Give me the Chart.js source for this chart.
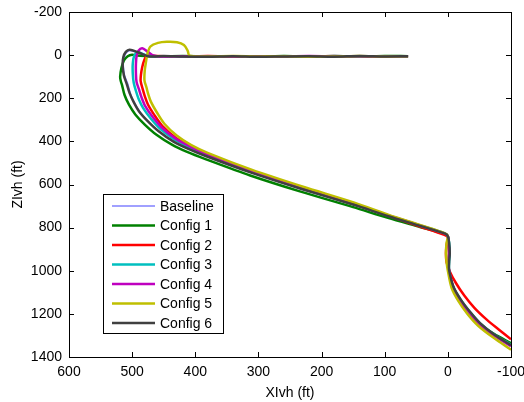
<!DOCTYPE html>
<html>
<head>
<meta charset="utf-8">
<script src="https://cdn.jsdelivr.net/npm/chart.js@4.4.1/dist/chart.umd.min.js"></script>
<style>
  html, body { margin: 0; padding: 0; background: #fff; }
  #wrap { width: 524px; height: 402px; }
</style>
</head>
<body>
<div id="wrap"><canvas id="trajChart" width="524" height="402"></canvas></div>
<script>
// Axis ticks
const xTicks = [600, 500, 400, 300, 200, 100, 0, -100];
const yTicks = [-200, 0, 200, 400, 600, 800, 1000, 1200, 1400];

const seriesNames = ['Baseline', 'Config 1', 'Config 2', 'Config 3', 'Config 4', 'Config 5', 'Config 6'];
const seriesColors = ['#8080ff', '#008000', '#ff0000', '#00bfbf', '#bf00bf', '#bfbf00', '#404040'];

// Trajectories, XIvh / ZIvh in ft
const xBaseline = [63, 100, 140, 180, 220, 260, 300, 340, 380, 420, 450, 475, 490, 503, 509, 513, 514, 512, 507, 503, 497, 488, 475, 458, 434, 410, 382, 311, 232, 149, 94, 42, 5, 0, -2, -3, -2, -2, -9, -21, -35, -51, -74, -100];
const zBaseline = [5, 6, 5, 6, 5, 6, 7, 5, 6, 6, 5, 5, -10, -22, -12, 12, 50, 95, 133, 176, 218, 261, 307, 353, 401, 436, 469, 545, 621, 694, 747, 793, 828, 840, 870, 918, 960, 998, 1076, 1137, 1191, 1243, 1297, 1345];

const xConfig1 = [63, 100, 140, 180, 220, 260, 300, 340, 380, 420, 455, 480, 492, 500, 507, 513, 517, 519, 518, 516, 512, 505, 495, 480, 462, 437, 412, 384, 313, 233, 150, 95, 43, 5, 0, -1, -2, -1, -1, -8, -19, -33, -50, -73, -100];
const zConfig1 = [5, 4, 7, 5, 6, 4, 7, 5, 6, 4, 6, 4, 2, -2, 5, 25, 60, 100, 120, 139, 185, 230, 275, 322, 368, 415, 450, 482, 558, 633, 705, 755, 798, 830, 840, 870, 918, 960, 997, 1075, 1136, 1192, 1245, 1293, 1336];

const xConfig2 = [63, 100, 140, 180, 220, 260, 300, 340, 380, 420, 450, 470, 477, 481, 484, 486, 486.5, 483.5, 480, 475, 465, 452, 431, 408, 381, 310.5, 231, 148.5, 94, 43, 5.5, 0, 2, 3, 2, -3, -13, -26, -42, -62, -82, -100];
const zConfig2 = [6, 5, 7, 4, 6, 5, 7, 6, 4, 6, 5, 3, 2, 25, 55, 90, 121, 155, 190, 229, 277, 329, 383, 422, 458, 537, 614, 689, 745, 796, 834, 845, 880, 920, 960, 1003, 1058, 1115, 1172, 1228, 1276, 1318];

const xConfig3 = [63, 100, 140, 180, 220, 260, 300, 340, 380, 420, 455, 475, 485, 492, 497, 499, 499, 497.5, 494, 489.5, 482.5, 470.5, 455.5, 432.5, 409, 381.5, 311, 231.5, 148.5, 94, 42.5, 4.5, 0, -2, -3, -2, -2, -9, -21, -35, -51, -74, -100];
const zConfig3 = [6, 5, 6, 4, 7, 5, 6, 7, 5, 6, 5, 3, -8, -14, 5, 40, 85, 128, 166, 205, 246, 294, 342, 392, 429, 463, 540, 617, 691, 745, 791, 827, 840, 870, 918, 960, 1000, 1078, 1138, 1192, 1244, 1297, 1343];

const xConfig4 = [63, 100, 140, 180, 220, 260, 300, 340, 380, 420, 450, 465, 475, 484, 490, 493, 494, 494, 493, 489, 485, 479, 468, 453.5, 431.5, 408, 381, 310.5, 231, 148.5, 94, 42.5, 4.5, 0, -1, -2, -1, -2, -9, -20, -34, -50, -73, -100];
const zConfig4 = [5, 7, 5, 6, 4, 6, 5, 7, 6, 5, 6, 3, -15, -32, -20, 5, 40, 85, 125, 160, 197, 238, 285, 335, 387, 424, 460, 538, 614, 689, 743, 791, 828, 840, 870, 918, 960, 1000, 1080, 1140, 1195, 1248, 1300, 1350];

const xConfig5 = [63, 100, 140, 180, 220, 260, 300, 340, 380, 409, 412, 418, 429, 445, 459, 471, 476, 478, 480, 480.5, 477.5, 474.5, 470, 461, 449, 429, 407, 380.5, 310, 230.5, 148, 93.5, 42, 4.5, 0, 2, 3, 2, 0, -6, -17, -31, -48, -72, -100];
const zConfig5 = [5, 6, 4, 6, 7, 5, 6, 4, 6, 3, -20, -47, -60, -62, -57, -40, -5, 30, 70, 117, 148, 181, 218, 265, 318, 374, 416, 453, 532, 609, 684, 741, 790, 827, 840, 870, 918, 960, 1000, 1080, 1142, 1200, 1255, 1310, 1366];

const xConfig6 = [63, 100, 140, 180, 220, 260, 300, 340, 380, 420, 450, 475, 490, 504, 510, 514, 515, 513, 508.5, 504, 497.5, 489, 475, 458, 434.5, 410, 382.5, 311.5, 231.5, 149, 94, 42.5, 4.5, 0, -2, -3, -2, -2, -9, -21, -35, -51, -74, -100];
const zConfig6 = [5, 6, 4, 7, 5, 6, 8, 5, 7, 6, 4, 5, -12, -25, -15, 10, 50, 95, 134, 176, 218, 261, 307, 353, 401, 436, 469, 545, 621, 694, 747, 793, 828, 840, 870, 918, 960, 997, 1075, 1136, 1190, 1243, 1297, 1345];

const xSeries = [xBaseline, xConfig1, xConfig2, xConfig3, xConfig4, xConfig5, xConfig6];
const zSeries = [zBaseline, zConfig1, zConfig2, zConfig3, zConfig4, zConfig5, zConfig6];

function toPoints(xs, zs) {
    return xs.map((x, i) => ({ x: x, y: zs[i] }));
}

Chart.defaults.font.family = "'Liberation Sans', Arial, Helvetica, sans-serif";
Chart.defaults.font.size = 14;
Chart.defaults.color = '#000';

// Box round the plot with inward tick marks, plus the legend inside the axes
const axesBox = {
    id: 'axesBox',
    afterDraw(chart) {
        const { ctx, chartArea: a, scales } = chart;
        ctx.save();
        ctx.strokeStyle = '#000';
        ctx.lineWidth = 1;
        ctx.strokeRect(Math.round(a.left) + 0.5, Math.round(a.top) + 0.5,
            Math.round(a.right - a.left), Math.round(a.bottom - a.top));
        ctx.beginPath();
        xTicks.forEach(v => {
            const px = Math.round(scales.x.getPixelForValue(v)) + 0.5;
            ctx.moveTo(px, a.bottom); ctx.lineTo(px, a.bottom - 5);
            ctx.moveTo(px, a.top); ctx.lineTo(px, a.top + 5);
        });
        yTicks.forEach(v => {
            const py = Math.round(scales.y.getPixelForValue(v)) + 0.5;
            ctx.moveTo(a.left, py); ctx.lineTo(a.left + 5, py);
            ctx.moveTo(a.right, py); ctx.lineTo(a.right - 5, py);
        });
        ctx.stroke();

        // legend
        const lx = 103, ly = 194, lw = 120, lh = 139;
        ctx.fillStyle = '#fff';
        ctx.fillRect(lx, ly, lw, lh);
        ctx.strokeRect(lx + 0.5, ly + 0.5, lw, lh);
        ctx.font = "14px 'Liberation Sans', Arial, sans-serif";
        ctx.textBaseline = 'middle';
        ctx.textAlign = 'left';
        chart.data.datasets.forEach((ds, i) => {
            const y = ly + 12 + i * 19.5;
            ctx.strokeStyle = ds.borderColor;
            ctx.lineWidth = ds.borderWidth;
            ctx.beginPath();
            ctx.moveTo(lx + 9, y); ctx.lineTo(lx + 52, y);
            ctx.stroke();
            ctx.fillStyle = '#000';
            ctx.fillText(ds.label, lx + 57, y + 1);
        });
        ctx.restore();
    }
};

const ctx = document.getElementById('trajChart').getContext('2d');
const trajChart = new Chart(ctx, {
    type: 'scatter',
    data: {
        datasets: seriesNames.map((name, i) => ({
            label: name,
            data: toPoints(xSeries[i], zSeries[i]),
            showLine: true,
            borderColor: seriesColors[i],
            backgroundColor: seriesColors[i],
            borderWidth: i === 0 ? 1.5 : 2.5,
            pointRadius: 0,
            tension: 0.3,
            fill: false,
            order: seriesNames.length - 1 - i
        }))
    },
    options: {
        responsive: false,
        animation: false,
        devicePixelRatio: 1,
        layout: { padding: { left: 0, right: 13, top: 12, bottom: 0 } },
        plugins: {
            legend: { display: false },
            tooltip: { enabled: false }
        },
        scales: {
            x: {
                type: 'linear',
                reverse: true,
                min: -100,
                max: 600,
                grid: { display: false, drawTicks: false },
                border: { display: false },
                afterBuildTicks: s => { s.ticks = xTicks.map(v => ({ value: v })); },
                afterFit: s => { s.height = 45; s.paddingLeft = 0; s.paddingRight = 0; },
                ticks: { padding: 7, maxRotation: 0, autoSkip: false, callback: v => String(v) },
                title: { display: true, text: 'XIvh (ft)', padding: { top: 0, bottom: 0 } }
            },
            y: {
                type: 'linear',
                reverse: true,
                min: -200,
                max: 1400,
                grid: { display: false, drawTicks: false },
                border: { display: false },
                afterBuildTicks: s => { s.ticks = yTicks.map(v => ({ value: v })); },
                afterFit: s => { s.width = 69; s.paddingTop = 0; s.paddingBottom = 0; },
                ticks: { padding: 7, autoSkip: false, callback: v => String(v) },
                title: { display: true, text: 'ZIvh (ft)', padding: { top: 10, bottom: 0 } }
            }
        }
    },
    plugins: [axesBox]
});
</script>
</body>
</html>
